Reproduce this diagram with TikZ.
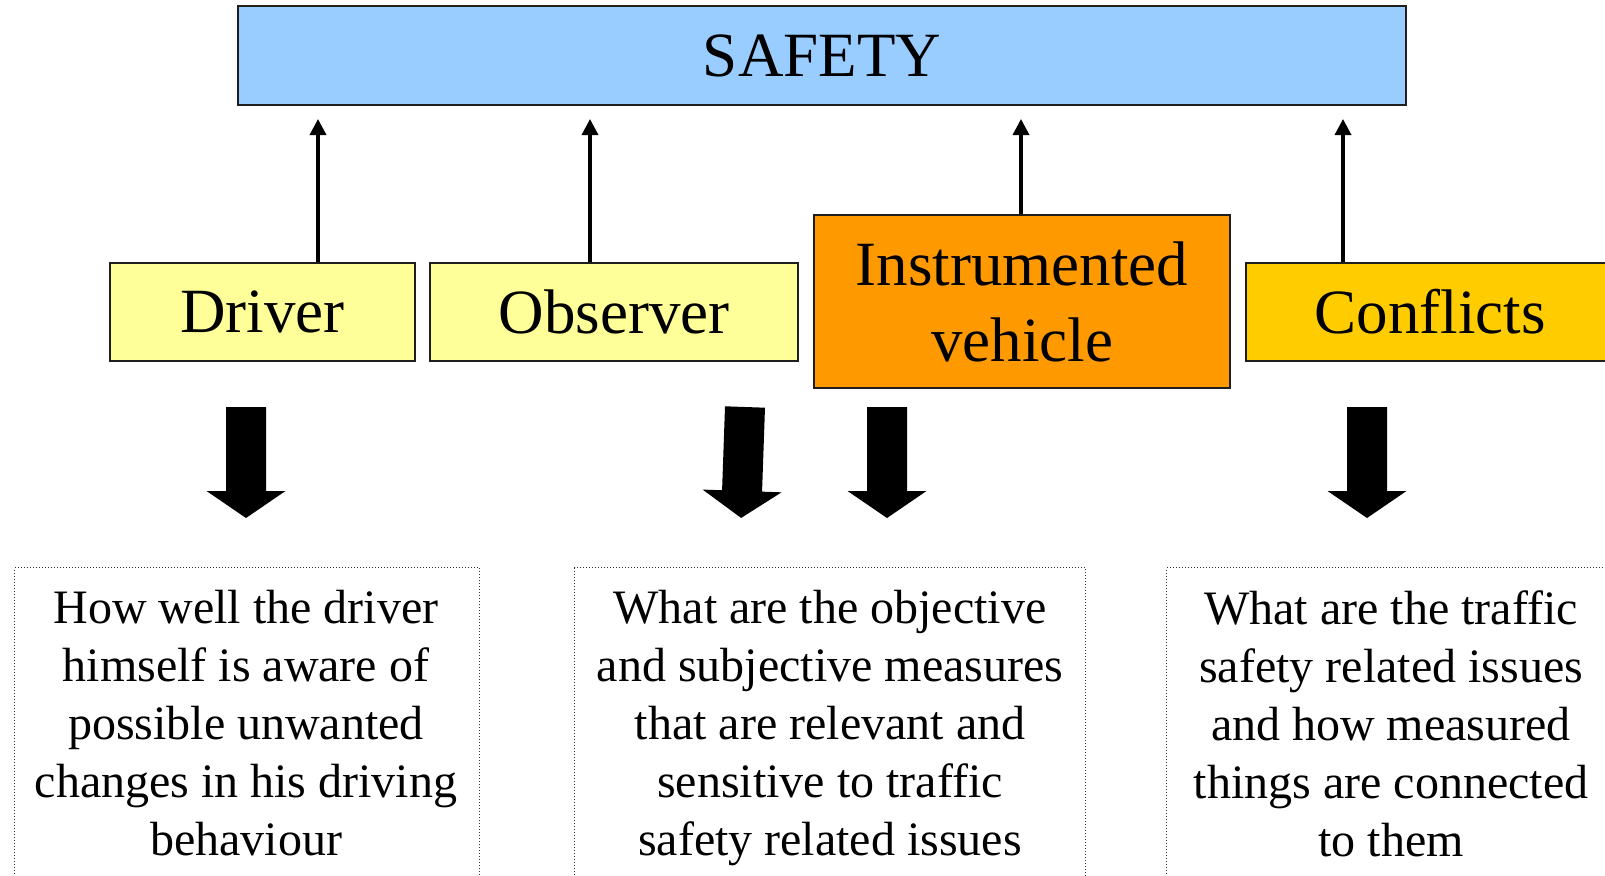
\documentclass[tikz,border=0pt]{standalone}
\usepackage{fontspec}
\setmainfont{Liberation Serif}
\usetikzlibrary{arrows.meta}

\definecolor{safetyblue}{RGB}{153,204,255}
\definecolor{paleyellow}{RGB}{255,255,153}
\definecolor{vehicleorange}{RGB}{255,153,0}
\definecolor{conflictgold}{RGB}{255,204,0}
\definecolor{edgegray}{RGB}{30,30,30}

\tikzset{
  headbox/.style={draw=edgegray, line width=2pt, inner sep=0pt,
    font=\fontsize{63}{76}\selectfont, align=center},
  uparrow/.style={line width=3.4pt, -{Triangle[width=16pt,length=16pt]}},
  notebox/.style={draw=black!80, line width=1.2pt, dash pattern=on 1pt off 2pt,
    inner sep=0pt, anchor=north west},
  notetext/.style={inner sep=0pt, anchor=north, align=center,
    font=\fontsize{48}{58}\selectfont},
}

% solid block arrow pointing down: #1 = top centre, #2 = tilt
\newcommand\bigdownarrow[2]{%
  \begin{scope}[shift={#1}, rotate=#2]
    \fill[black] (-20,0) -- (20,0) -- (20,84) -- (39.5,84) -- (0,111)
      -- (-39.5,84) -- (-20,84) -- cycle;
  \end{scope}}

\begin{document}
\begin{tikzpicture}[x=1pt, y=-1pt]
  \useasboundingbox (0,0) rectangle (1605,875);
  \clip (0,0) rectangle (1605,875);

  % top box
  \node[headbox, fill=safetyblue, minimum width=1168pt, minimum height=99pt]
    (safety) at (822,55.5) {SAFETY};

  % sources of information
  \node[headbox, fill=paleyellow, minimum width=305pt, minimum height=98pt]
    (driver) at (262.5,312) {Driver};
  \node[headbox, fill=paleyellow, minimum width=368pt, minimum height=98pt]
    (observer) at (614,312) {Observer};
  \node[headbox, fill=vehicleorange, minimum width=416pt, minimum height=173pt]
    (vehicle) at (1022,301.5) {Instrumented\\vehicle};
  \node[headbox, fill=conflictgold, minimum width=368pt, minimum height=98pt]
    (conflicts) at (1430,312) {Conflicts};

  % arrow ends just below the top box
  \coordinate (t1) at (318,119);
  \coordinate (t2) at (590,119);
  \coordinate (t3) at (1021,119);
  \coordinate (t4) at (1343,119);
  \draw[uparrow] (driver.north -| t1) -- (t1);
  \draw[uparrow] (observer.north -| t2) -- (t2);
  \draw[uparrow] (vehicle.north -| t3) -- (t3);
  \draw[uparrow] (conflicts.north -| t4) -- (t4);

  % block arrows
  \bigdownarrow{(246,407)}{0}
  \bigdownarrow{(745,407)}{-2}
  \bigdownarrow{(887,407)}{0}
  \bigdownarrow{(1367,407)}{0}

  % question boxes
  \node[notebox, minimum width=465pt, minimum height=340pt] (q1) at (14,567) {};
  \node[notebox, minimum width=511pt, minimum height=340pt] (q2) at (574,567) {};
  \node[notebox, minimum width=540pt, minimum height=340pt] (q3) at (1166,567) {};

  \node[notetext] (q1text) at (246,590)
    {How well the driver\\himself is aware of\\possible unwanted\\changes in his driving\\behaviour};
  \node[notetext] (q2text) at (830,590)
    {What are the objective\\and subjective measures\\that are relevant and\\sensitive to traffic\\safety related issues};
  \node[notetext] (q3text) at (1391,590)
    {What are the traffic\\safety related issues\\and how measured\\things are connected\\to them};
\end{tikzpicture}
\end{document}
